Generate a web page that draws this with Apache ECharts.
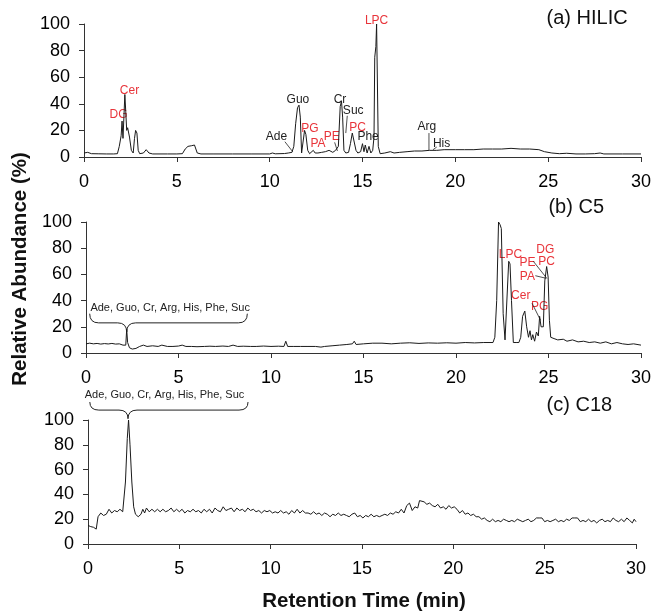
<!DOCTYPE html>
<html><head><meta charset="utf-8">
<script src="https://cdn.jsdelivr.net/npm/echarts@6/dist/echarts.min.js"></script>
<style>html,body{margin:0;padding:0;background:#fff}#c{width:654px;height:612px}</style>
</head><body><div id="c"></div>
<script>
// ---- data (retention time in min, relative abundance in %) ----
const xTicks = [0, 5, 10, 15, 20, 25, 30];
const yTicks = [0, 20, 40, 60, 80, 100];
const panelTitles = ['(a) HILIC', '(b) C5', '(c) C18'];

const hilic = [[0,3],[0.1,3.2],[0.2,3.5],[0.3,3.2],[0.4,2.5],[0.8,2.4],[1.2,2.3],[1.6,2.3],[1.8,2.5],[1.9,8],[2.0,16],[2.05,27],[2.1,14],[2.15,30],[2.2,47],[2.25,34],[2.3,20],[2.35,22],[2.45,15],[2.55,5],[2.65,3],[2.72,14],[2.78,20],[2.85,18],[2.92,5],[3.0,2.5],[3.2,3],[3.35,5.5],[3.5,3],[3.7,2.3],[4.5,2.3],[5.0,2.3],[5.3,2.5],[5.45,6],[5.6,8],[5.8,8.5],[5.95,9],[6.1,3],[6.3,2.3],[7,2.3],[8,2.3],[9,2.3],[10,2.3],[10.15,3],[10.3,2.4],[10.8,2.6],[11.0,3],[11.2,3.5],[11.3,8],[11.4,25],[11.5,37],[11.58,39],[11.65,30],[11.72,3],[11.8,3],[11.88,20],[11.95,17],[12.05,5],[12.15,2.5],[12.25,4],[12.35,5],[12.45,3],[12.6,3],[12.8,3.5],[13.0,4],[13.2,5],[13.4,3.5],[13.55,5],[13.7,8],[13.8,38],[13.87,42],[13.93,30],[14.0,5],[14.1,3],[14.25,3.5],[14.35,10],[14.45,18],[14.55,17],[14.65,5],[14.75,3],[14.9,4],[15.0,10],[15.08,4],[15.15,9],[15.25,3],[15.35,8],[15.45,3],[15.55,5],[15.62,15],[15.66,75],[15.72,83],[15.76,100],[15.8,100],[15.85,8],[15.95,2.5],[16.2,3],[16.5,4],[16.7,3],[17.0,3.5],[17.4,4],[17.8,4.5],[18.2,4.5],[18.6,5],[19.0,5],[19.4,5.5],[20,5.5],[20.5,5.5],[21,5.5],[21.5,6],[22,6],[22.5,6],[23,6.5],[23.5,6],[24,6],[24.5,5.5],[24.8,4],[25.2,3],[25.6,2.5],[26,2.8],[26.5,2.3],[27,2.3],[27.5,2.5],[27.8,3],[28,2.3],[29,2.3],[30,2.3]];

const c5 = [[0,7],[0.2,7.5],[0.4,7],[0.6,7.3],[0.8,6.8],[1.0,7.2],[1.2,6.9],[1.4,7.3],[1.6,6.8],[1.8,7],[2.0,6],[2.15,6],[2.2,18],[2.25,8],[2.35,4],[2.5,3],[2.7,3.5],[2.9,5],[3.1,6],[3.3,5],[3.6,5.5],[3.9,5],[4.1,6],[4.4,5],[4.7,5],[5.0,5.3],[5.2,6],[5.4,5],[5.7,5],[6.0,4.8],[6.4,5],[6.7,5.2],[7.0,5],[7.4,5.3],[7.7,5],[7.95,6],[8.2,5],[8.5,5.2],[8.9,5],[9.2,5],[9.6,5.3],[10.0,5],[10.4,5.2],[10.7,5],[10.8,9],[10.9,5],[11.2,5],[11.6,5],[12.0,5],[12.4,5],[12.7,4.5],[12.9,5],[13.3,5.5],[13.7,6],[14.1,6.5],[14.4,7],[14.5,9],[14.6,6.5],[15.0,7],[15.5,7.5],[16.0,7.5],[16.5,7],[17.0,7.5],[17.5,7.8],[18.0,7.3],[18.5,7.7],[19.0,7.5],[19.5,7.8],[20.0,7.5],[20.5,8],[21.0,7.7],[21.5,8],[22.0,8],[22.1,12],[22.2,40],[22.3,100],[22.38,98],[22.45,95],[22.55,30],[22.65,10],[22.75,10],[22.85,70],[22.92,68],[23.0,40],[23.1,8],[23.25,8],[23.4,8],[23.5,12],[23.6,28],[23.72,32],[23.82,20],[23.92,12],[24.0,17],[24.08,10],[24.15,14],[24.25,9],[24.35,16],[24.45,13],[24.52,28],[24.6,20],[24.72,20],[24.8,55],[24.9,66],[24.98,58],[25.05,25],[25.12,12],[25.3,11],[25.5,10],[25.8,10.5],[26,9],[26.3,10],[26.6,8.5],[26.9,9],[27.2,8],[27.5,8.5],[27.8,7.5],[28.1,8.5],[28.4,7],[28.7,8],[29.0,7],[29.3,6.5],[29.6,7],[30,6]];

const c18 = [[0,15],[0.15,14],[0.3,13.5],[0.45,12],[0.55,22],[0.7,25],[0.85,23],[1.0,24],[1.15,28],[1.3,25],[1.45,27],[1.6,26],[1.75,28],[1.9,26],[2.0,27],[2.05,50],[2.15,85],[2.22,100],[2.3,80],[2.4,50],[2.5,30],[2.6,24],[2.75,22],[2.9,24],[3.0,28],[3.1,25],[3.2,29],[3.35,26],[3.5,28],[3.65,26],[3.8,28],[3.95,26],[4.1,28],[4.25,26],[4.4,27],[4.55,29],[4.7,26],[4.85,28],[5.0,26],[5.15,28],[5.3,25],[5.45,27],[5.6,26],[5.75,28],[5.9,26],[6.05,27],[6.2,25],[6.35,28],[6.5,26],[6.65,28],[6.8,25],[6.95,29],[7.1,27],[7.25,26],[7.4,30],[7.55,27],[7.7,28],[7.85,29],[8.0,26],[8.15,29],[8.3,27],[8.45,28],[8.6,26],[8.75,29],[8.9,27],[9.05,28],[9.2,26],[9.35,27],[9.5,25],[9.65,27],[9.8,26],[9.95,27],[10.1,25],[10.25,26],[10.4,25],[10.55,27],[10.7,25],[10.85,26],[11.0,24],[11.15,27],[11.3,25],[11.45,28],[11.6,25],[11.75,27],[11.9,25],[12.05,25],[12.2,24],[12.35,26],[12.5,24],[12.65,25],[12.8,23],[12.95,25],[13.1,24],[13.25,22],[13.4,24],[13.55,23],[13.7,25],[13.85,23],[14.0,24],[14.15,23],[14.3,22],[14.45,24],[14.6,25],[14.75,22],[14.9,23],[15.05,21],[15.2,23],[15.35,22],[15.5,24],[15.65,22],[15.8,23],[15.95,22],[16.1,23],[16.25,24],[16.4,23],[16.55,25],[16.7,24],[16.85,26],[17.0,25],[17.15,28],[17.3,25],[17.45,31],[17.6,33],[17.75,27],[17.9,30],[18.05,29],[18.15,35],[18.25,36],[18.4,34],[18.55,32],[18.7,33],[18.85,31],[19.0,30],[19.15,32],[19.3,29],[19.45,30],[19.6,28],[19.75,31],[19.9,29],[20.05,30],[20.2,28],[20.35,25],[20.5,27],[20.65,24],[20.8,25],[20.95,23],[21.1,24],[21.25,22],[21.4,22],[21.55,20],[21.7,21],[21.85,19],[22.0,18],[22.15,20],[22.3,18],[22.45,19],[22.6,18],[22.75,20],[22.9,19],[23.05,18],[23.2,19],[23.35,18],[23.5,20],[23.65,19],[23.8,18],[23.95,19],[24.1,20],[24.25,18],[24.4,19],[24.55,21],[24.7,21],[24.85,21],[25.0,18],[25.15,19],[25.3,18],[25.45,19],[25.6,20],[25.75,18],[25.9,19],[26.05,18],[26.2,20],[26.35,19],[26.5,21],[26.65,21],[26.8,21],[26.95,18],[27.1,19],[27.25,18],[27.4,20],[27.55,18],[27.7,19],[27.85,17],[28.0,19],[28.15,20],[28.3,18],[28.45,19],[28.6,18],[28.75,21],[28.9,19],[29.05,18],[29.2,20],[29.35,18],[29.5,21],[29.65,19],[29.8,17],[29.9,20],[30,18]];

// peak labels: [text, time, abundance, isLipid]
const hilicLabels = [['DG',1.86,32,1],['Cer',2.45,50,1],['Ade',10.37,15,0],['Guo',11.52,43,0],['PG',12.17,21,1],['PA',12.6,10,1],['PE',13.34,15,1],['Cr',13.79,43,0],['Suc',14.5,35,0],['PC',14.74,22,1],['Phe',15.3,15,0],['LPC',15.76,102.5,1],['Arg',18.47,23,0],['His',19.26,10,0]];
const c5Labels = [['LPC',22.94,75,1],['DG',24.83,79,1],['PE',23.86,69,1],['PC',24.9,70,1],['PA',23.86,58,1],['Cer',23.5,44,1],['PG',24.52,35,1]];
const groupText = 'Ade, Guo, Cr, Arg, His, Phe, Suc';
// ----------------------------------------------------

const RED = '#e8343a', INK = '#1a1a1a', FONT = 'Liberation Sans, Arial, sans-serif';
const chart = echarts.init(document.getElementById('c'), null, {renderer: 'canvas'});
const grids = [
  {left: 84, top: 24, width: 557, height: 133},
  {left: 86, top: 222, width: 557, height: 131},
  {left: 88, top: 420, width: 548, height: 124}
];
const axisCommon = {
  axisLine: {show: true, lineStyle: {color: '#333', width: 1}},
  axisTick: {show: true, length: 5, lineStyle: {color: '#333'}},
  splitLine: {show: false},
  axisLabel: {color: '#000', fontSize: 18, fontFamily: FONT}
};
const xAxes = grids.map((g, i) => Object.assign({}, axisCommon, {
  type: 'value', gridIndex: i, min: xTicks[0], max: xTicks[xTicks.length - 1], interval: xTicks[1] - xTicks[0],
  axisLabel: Object.assign({}, axisCommon.axisLabel, {margin: 16})
}));
const yAxes = grids.map((g, i) => Object.assign({}, axisCommon, {
  type: 'value', gridIndex: i, min: yTicks[0], max: yTicks[yTicks.length - 1], interval: yTicks[1] - yTicks[0],
  axisLabel: Object.assign({}, axisCommon.axisLabel, {margin: 14})
}));
const series = [hilic, c5, c18].map((d, i) => ({
  type: 'line', xAxisIndex: i, yAxisIndex: i, data: d, showSymbol: false, symbol: 'none',
  lineStyle: {color: INK, width: 1}, animation: false
}));
chart.setOption({animation: false, grid: grids, xAxis: xAxes, yAxis: yAxes, series: series});

const px = (gi, x, y) => chart.convertToPixel({gridIndex: gi}, [x, y]);
const g = [];
function label(gi, t, x, y, red, size) {
  const p = px(gi, x, y);
  g.push({type: 'text', x: p[0], y: p[1], style: {text: t, fill: red ? RED : '#222', font: (size || 12) + 'px ' + FONT, textAlign: 'center', textVerticalAlign: 'middle'}});
}
function seg(gi, a, b) {
  const p = px(gi, a[0], a[1]), q = px(gi, b[0], b[1]);
  g.push({type: 'line', shape: {x1: p[0], y1: p[1], x2: q[0], y2: q[1]}, style: {stroke: '#222', lineWidth: 0.8}});
}
function curve(x1, y1, cx, cy, x2, y2) {
  g.push({type: 'bezierCurve', shape: {x1: x1, y1: y1, x2: x2, y2: y2, cpx1: cx, cpy1: cy}, style: {stroke: '#222', fill: null, lineWidth: 1}});
}
function hline(x1, x2, y) {
  g.push({type: 'line', shape: {x1: x1, y1: y, x2: x2, y2: y}, style: {stroke: '#222', lineWidth: 1}});
}
function brace(gi, xl, xr, yEnd, yMid, xt, yt) {
  const L = px(gi, xl, yEnd), R = px(gi, xr, yEnd), H = px(gi, xt, yMid), T = px(gi, xt, yt);
  const r = 9, yh = H[1];
  curve(L[0], L[1], L[0], yh, L[0] + r, yh);
  hline(L[0] + r, T[0] - r, yh);
  curve(T[0] - r, yh, T[0], yh, T[0], T[1]);
  curve(T[0], T[1], T[0], yh, T[0] + r, yh);
  hline(T[0] + r, R[0] - r, yh);
  curve(R[0] - r, yh, R[0], yh, R[0], R[1]);
}
hilicLabels.forEach(l => label(0, l[0], l[1], l[2], l[3]));
c5Labels.forEach(l => label(1, l[0], l[1], l[2], l[3]));
// callout lines
seg(0, [10.82, 11.5], [11.24, 4]);
seg(0, [13.5, 11], [13.65, 4.5]);
seg(0, [14.18, 31], [14.1, 18]);
seg(0, [18.58, 18], [18.58, 5]);
seg(0, [18.8, 5.5], [19.0, 7.5]);
seg(1, [24.18, 70], [24.91, 57]);
seg(1, [24.29, 59], [24.88, 57]);
seg(1, [24.11, 38], [24.57, 25]);
// group braces
label(1, groupText, 4.55, 34.6, 0, 11);
brace(1, 0.2, 8.72, 30, 23, 2.2, 16);
label(2, groupText, 4.19, 120, 0, 11);
brace(2, 0.1, 8.76, 114.5, 108, 2.19, 101);
// panel titles
[[0, 27.1, 104], [1, 26.5, 111], [2, 26.9, 112]].forEach((p, i) => {
  const q = px(p[0], p[1], p[2]);
  g.push({type: 'text', x: q[0], y: q[1], style: {text: panelTitles[i], fill: '#111', font: '20px ' + FONT, textAlign: 'center', textVerticalAlign: 'middle'}});
});
// axis titles
g.push({type: 'text', x: 364, y: 601, style: {text: 'Retention Time (min)', fill: '#111', font: 'bold 20.5px ' + FONT, textAlign: 'center', textVerticalAlign: 'middle'}});
g.push({type: 'text', x: 20, y: 269, rotation: Math.PI / 2, style: {text: 'Relative Abundance (%)', fill: '#111', font: 'bold 20.5px ' + FONT, textAlign: 'center', textVerticalAlign: 'middle'}});
chart.setOption({graphic: g});
</script></body></html>
